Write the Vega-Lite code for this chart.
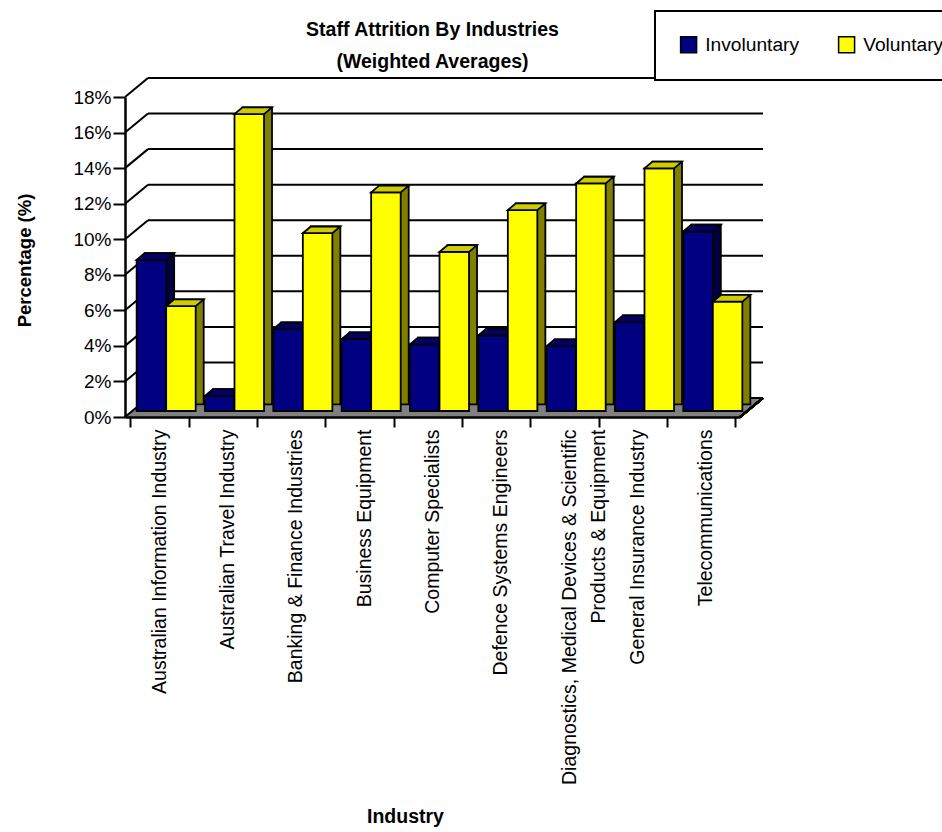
{
  "$schema": "https://vega.github.io/schema/vega-lite/v6.json",
  "autosize": {"type": "none"},
  "padding": {"left": 125, "top": 97, "right": 202, "bottom": 415},
  "width": 615,
  "height": 320,
  "background": "white",
  "title": {
    "text": ["Staff Attrition By Industries", "(Weighted Averages)"],
    "frame": "group",
    "anchor": "middle",
    "offset": -62,
    "font": "Liberation Sans, Arial, sans-serif",
    "fontSize": 19.5,
    "fontWeight": "bold",
    "lineHeight": 32,
    "color": "black"
  },
  "datasets": {
    "ticks": [{"v": 0}, {"v": 2}, {"v": 4}, {"v": 6}, {"v": 8}, {"v": 10}, {"v": 12}, {"v": 14}, {"v": 16}, {"v": 18}]
  },
  "data": {
    "values": [
      {"industry": "Australian Information Industry", "type": "Involuntary", "value": 8.5},
      {"industry": "Australian Information Industry", "type": "Voluntary", "value": 5.9},
      {"industry": "Australian Travel Industry", "type": "Involuntary", "value": 0.85},
      {"industry": "Australian Travel Industry", "type": "Voluntary", "value": 16.7},
      {"industry": "Banking & Finance Industries", "type": "Involuntary", "value": 4.6},
      {"industry": "Banking & Finance Industries", "type": "Voluntary", "value": 10.0},
      {"industry": "Business Equipment", "type": "Involuntary", "value": 4.05},
      {"industry": "Business Equipment", "type": "Voluntary", "value": 12.3},
      {"industry": "Computer Specialists", "type": "Involuntary", "value": 3.75},
      {"industry": "Computer Specialists", "type": "Voluntary", "value": 8.95},
      {"industry": "Defence Systems Engineers", "type": "Involuntary", "value": 4.25},
      {"industry": "Defence Systems Engineers", "type": "Voluntary", "value": 11.3},
      {"industry": "Diagnostics, Medical Devices & Scientific Products & Equipment", "type": "Involuntary", "value": 3.65},
      {"industry": "Diagnostics, Medical Devices & Scientific Products & Equipment", "type": "Voluntary", "value": 12.8},
      {"industry": "General Insurance Industry", "type": "Involuntary", "value": 5.0},
      {"industry": "General Insurance Industry", "type": "Voluntary", "value": 13.65},
      {"industry": "Telecommunications", "type": "Involuntary", "value": 10.1},
      {"industry": "Telecommunications", "type": "Voluntary", "value": 6.15}
    ]
  },
  "encoding": {
    "x": {
      "field": "industry",
      "type": "nominal",
      "sort": null,
      "scale": {"paddingInner": 0.136, "paddingOuter": 0.068},
      "axis": {
        "title": "Industry",
        "zindex": 1,
        "labelAngle": -90,
        "labelFont": "Liberation Sans, Arial, sans-serif",
        "labelFontSize": 19.5,
        "labelColor": "black",
        "labelLineHeight": 29,
        "labelPadding": 2,
        "labelLimit": 0,
        "labelExpr": "datum.label == 'Diagnostics, Medical Devices & Scientific Products & Equipment' ? ['Diagnostics, Medical Devices & Scientific', 'Products & Equipment'] : datum.label",
        "tickBand": "extent",
        "tickSize": 10,
        "tickWidth": 2,
        "tickColor": "black",
        "domainColor": "black",
        "domainWidth": 2.5,
        "titleFont": "Liberation Sans, Arial, sans-serif",
        "titleFontSize": 19.5,
        "titleFontWeight": "bold",
        "titleColor": "black",
        "titleX": 280,
        "titleY": 405,
        "titleAlign": "center",
        "titleBaseline": "alphabetic"
      }
    },
    "y": {
      "field": "value",
      "type": "quantitative",
      "scale": {"domain": [0, 18], "nice": false, "zero": true},
      "axis": {
        "title": "Percentage (%)",
        "zindex": 1,
        "values": [0, 2, 4, 6, 8, 10, 12, 14, 16, 18],
        "labelExpr": "datum.value + '%'",
        "labelFont": "Liberation Sans, Arial, sans-serif",
        "labelFontSize": 19,
        "labelColor": "black",
        "labelPadding": 2,
        "tickSize": 12,
        "tickWidth": 2,
        "tickColor": "black",
        "domainColor": "black",
        "domainWidth": 2.5,
        "grid": false,
        "titleFont": "Liberation Sans, Arial, sans-serif",
        "titleFontSize": 18.5,
        "titleFontWeight": "bold",
        "titleColor": "black",
        "titleAngle": -90,
        "titleX": -101,
        "titleY": 163,
        "titleAlign": "center",
        "titleBaseline": "middle"
      }
    }
  },
  "layer": [
    {
      "mark": {"type": "point", "shape": "M-34.4,0L34.4,0L57.4,-19L-11.4,-19Z", "size": 4, "filled": true, "fill": "#808080", "strokeWidth": 0, "opacity": 1},
      "encoding": {"y": {"datum": 0}}
    },
    {
      "data": {"name": "ticks"},
      "mark": {"type": "rule", "color": "black", "strokeWidth": 2, "x2Offset": 23, "y2Offset": -19},
      "encoding": {
        "x": {"value": 0},
        "x2": {"value": 0},
        "y": {"field": "v", "type": "quantitative"},
        "y2": {"field": "v"}
      }
    },
    {
      "data": {"name": "ticks"},
      "mark": {"type": "rule", "color": "black", "strokeWidth": 2, "xOffset": 23, "x2Offset": 23, "yOffset": -19},
      "encoding": {
        "x": {"value": 0},
        "x2": {"value": "width"},
        "y": {"field": "v", "type": "quantitative"}
      }
    },
    {
      "mark": {"type": "rule", "color": "black", "strokeWidth": 2, "x2Offset": 23, "y2Offset": -19},
      "encoding": {
        "x": {"value": "width"},
        "x2": {"value": "width"},
        "y": {"datum": 0},
        "y2": {"datum": 0}
      }
    },
    {
      "transform": [{"filter": "datum.type == 'Involuntary'"}],
      "mark": {"type": "bar", "width": {"band": 0.5}, "fill": "#000040", "stroke": "black", "strokeWidth": 1.8, "xOffset": 0.24, "yOffset": -12.7, "y2Offset": -12.7}
    },
    {
      "transform": [{"filter": "datum.type == 'Involuntary'"}],
      "mark": {"type": "bar", "width": {"band": 0.5}, "stroke": "black", "strokeWidth": 1.8, "xOffset": -7.76, "yOffset": -6, "y2Offset": -6, "opacity": 1},
      "encoding": {
        "color": {
          "field": "type", "type": "nominal",
          "scale": {"domain": ["Involuntary", "Voluntary"], "range": ["#000080", "#ffff00"]},
          "legend": {
            "title": null,
            "orient": "none",
            "legendX": 530,
            "legendY": -86,
            "direction": "horizontal",
            "padding": 24,
            "fillColor": "white",
            "strokeColor": "black",
            "symbolType": "square",
            "symbolSize": 256,
            "symbolStrokeColor": "black",
            "symbolStrokeWidth": 1.5,
            "symbolOpacity": 1,
            "labelFont": "Liberation Sans, Arial, sans-serif",
            "labelFontSize": 19.2,
            "labelColor": "black",
            "labelOffset": 7,
            "columnPadding": 35,
            "labelLimit": 0,
            "encode": {"legend": {"update": {"strokeWidth": {"value": 2}}}}
          }
        }
      }
    },
    {
      "transform": [{"filter": "datum.type == 'Involuntary'"}],
      "mark": {"type": "point", "shape": "M-7.76,-6L21.76,-6L29.76,-12.7L0.24,-12.7Z", "size": 4, "filled": true, "fill": "#000066", "stroke": "black", "strokeWidth": 1.8, "opacity": 1},
      "encoding": {"x": {"field": "industry", "type": "nominal", "sort": null, "bandPosition": 0.25}}
    },
    {
      "transform": [{"filter": "datum.type == 'Voluntary'"}],
      "mark": {"type": "bar", "width": {"band": 0.5}, "fill": "#808000", "stroke": "black", "strokeWidth": 1.8, "xOffset": 29.76, "yOffset": -12.7, "y2Offset": -12.7}
    },
    {
      "transform": [{"filter": "datum.type == 'Voluntary'"}],
      "mark": {"type": "bar", "width": {"band": 0.5}, "stroke": "black", "strokeWidth": 1.8, "xOffset": 21.76, "yOffset": -6, "y2Offset": -6, "opacity": 1},
      "encoding": {
        "color": {"field": "type", "type": "nominal"}
      }
    },
    {
      "transform": [{"filter": "datum.type == 'Voluntary'"}],
      "mark": {"type": "point", "shape": "M-7.76,-6L21.76,-6L29.76,-12.7L0.24,-12.7Z", "size": 4, "filled": true, "fill": "#cccc00", "stroke": "black", "strokeWidth": 1.8, "opacity": 1},
      "encoding": {"x": {"field": "industry", "type": "nominal", "sort": null, "bandPosition": 0.75}}
    }
  ],
  "config": {"view": {"stroke": null}}
}
